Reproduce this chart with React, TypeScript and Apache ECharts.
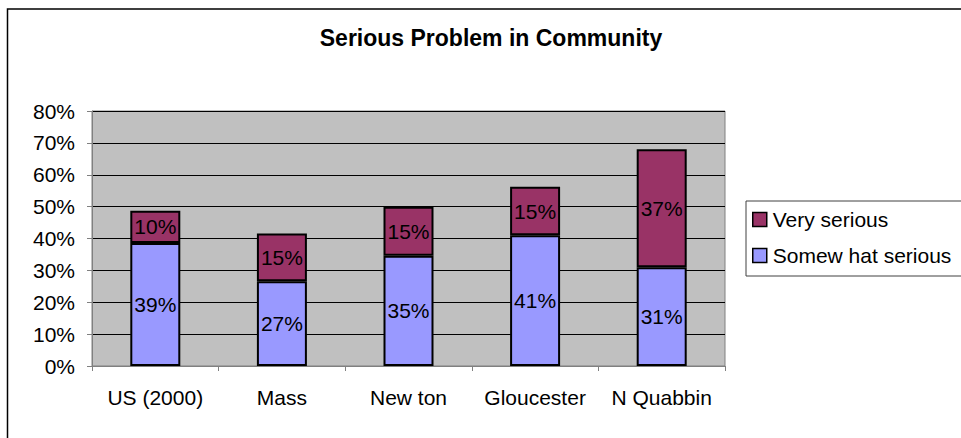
import React, { useEffect, useRef } from "react";
import * as echarts from "echarts";

const categories = ["US (2000)", "Mass", "New ton", "Gloucester", "N Quabbin"];
const somewhatSerious = [38.6, 26.6, 34.6, 41.0, 31.0];
const verySerious = [10.1, 15.0, 15.4, 15.2, 37.0];
const yTicks = { min: 0, max: 80, interval: 10 };

const FONT = "'Liberation Sans', Arial, sans-serif";

export default function App() {
  const ref = useRef<HTMLDivElement>(null);
  useEffect(() => {
    if (!ref.current) return;
    const chart = echarts.init(ref.current, null, { renderer: "svg" });
    const labelCfg = {
      show: true,
      position: "inside",
      color: "#000",
      fontSize: 21,
      fontFamily: FONT,
      formatter: (p: any) => Math.round(p.value) + "%",
    };
    chart.setOption({
      animation: false,
      backgroundColor: "#fff",
      title: {
        text: "Serious Problem in Community",
        left: 491,
        top: 26,
        textAlign: "center",
        padding: 0,
        textStyle: { fontSize: 23, fontWeight: "bold", fontFamily: FONT, color: "#000" },
      },
      grid: {
        left: 92,
        top: 111,
        width: 633,
        height: 255,
        show: true,
        backgroundColor: "#C0C0C0",
        borderColor: "#808080",
        borderWidth: 1,
      },
      legend: {
        orient: "vertical",
        left: 746,
        top: 201,
        padding: [8, 30, 10, 6],
        itemGap: 15,
        itemWidth: 14,
        itemHeight: 14,
        borderColor: "#404040",
        borderWidth: 1,
        backgroundColor: "#fff",
        icon: "rect",
        data: ["Very serious", "Somew hat serious"],
        textStyle: { fontSize: 21, fontFamily: FONT, color: "#000", padding: [0, 0, 0, 1] },
        itemStyle: { borderColor: "#000", borderWidth: 1.5 },
      },
      xAxis: {
        type: "category",
        data: categories,
        axisLine: { show: true, lineStyle: { color: "#808080", width: 1 } },
        axisTick: { show: true, length: 5, lineStyle: { color: "#808080" } },
        axisLabel: {
          color: "#000",
          fontSize: 21,
          fontFamily: FONT,
          margin: 21,
          interval: 0,
          hideOverlap: false,
        },
        splitLine: { show: false },
      },
      yAxis: {
        type: "value",
        min: yTicks.min,
        max: yTicks.max,
        interval: yTicks.interval,
        axisLine: { show: true, lineStyle: { color: "#808080", width: 1 } },
        axisTick: { show: true, length: 5, lineStyle: { color: "#808080" } },
        axisLabel: { color: "#000", fontSize: 21, fontFamily: FONT, margin: 17, formatter: "{value}%" },
        splitLine: { show: true, lineStyle: { color: "#000", width: 1 } },
      },
      series: [
        {
          name: "Somew hat serious",
          type: "bar",
          stack: "total",
          barWidth: 50,
          data: somewhatSerious,
          itemStyle: { color: "#9999FF", borderColor: "#000", borderWidth: 2 },
          label: labelCfg,
        },
        {
          name: "Very serious",
          type: "bar",
          stack: "total",
          barWidth: 50,
          data: verySerious,
          itemStyle: { color: "#993366", borderColor: "#000", borderWidth: 2 },
          label: labelCfg,
        },
      ],
      graphic: [
        {
          type: "rect",
          shape: { x: 7.5, y: 9, width: 1200, height: 1200 },
          style: { fill: "none", stroke: "#000", lineWidth: 1.5 },
          silent: true,
          z: 100,
        },
      ],
    });
    return () => chart.dispose();
  }, []);
  return (
    <div
      ref={ref}
      style={{ position: "absolute", left: 0, top: 0, width: 961, height: 438 }}
    />
  );
}
